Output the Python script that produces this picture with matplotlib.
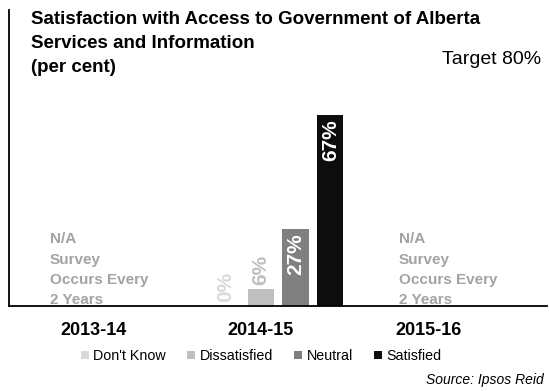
import matplotlib
matplotlib.use("Agg")
import matplotlib.pyplot as plt
import numpy as np

years = ["2013-14", "2014-15", "2015-16"]
responses = ["Don't Know", "Dissatisfied", "Neutral", "Satisfied"]
# only 2014-15 has survey results
values_1415 = [0, 6, 27, 67]
colors = ["#d9d9d9", "#bfbfbf", "#808080", "#0d0d0d"]
na_text = "N/A\nSurvey\nOccurs Every\n2 Years"
title_lines = ["Satisfaction with Access to Government of Alberta",
               "Services and Information", "(per cent)"]

plt.rcParams['font.family'] = ['Liberation Sans', 'DejaVu Sans']

fig = plt.figure(figsize=(5.49, 3.91), dpi=100)
ax = fig.add_axes([0.0164, 0.2174, 0.98, 0.7566])

width = 0.145
pitch = 0.195
x = np.arange(len(years))
for i, (resp, val, col) in enumerate(zip(responses, values_1415, colors)):
    xpos = x[1] + (i - 1.5) * pitch
    ax.bar(xpos, val, width, color=col, label=resp)
    label = f"{val}%"
    if val > 15:
        ax.text(xpos, val - 1.5, label, rotation=90, ha="center", va="top",
                color="white", fontsize=15, fontweight="bold")
    else:
        ax.text(xpos, val + 1.5, label, rotation=90, ha="center", va="bottom",
                color=col, fontsize=15, fontweight="bold")

# years without a survey; last line sits on the baseline
for xi in (x[0] - 0.271, x[2] - 0.325):
    ax.text(xi, -0.5, na_text, ha="left", va="bottom", color="#a3a3a3",
            fontsize=11, fontweight="bold", linespacing=1.58, clip_on=True)

ax.set_xlim(-0.5, 2.5)
ax.set_ylim(0, 104)
ax.set_yticks([])
ax.set_xticks([])
label_pos = x * 0.935 - 0.03
for xi, yr in zip(label_pos, years):
    ax.text(xi, -5.8, yr, ha="center", va="top", fontsize=13,
            fontweight="bold")
for s in ("top", "right"):
    ax.spines[s].set_visible(False)
for s in ("left", "bottom"):
    ax.spines[s].set_linewidth(1.3)
    ax.spines[s].set_zorder(3)

for k, line in enumerate(title_lines):
    fig.text(0.057, 1 - (20 + 24 * k) / 391, line, ha="left", va="center",
             fontsize=13.5, fontweight="bold")
fig.text(0.985, 1 - 59 / 391, "Target 80%", ha="right", va="center",
         fontsize=14)

fig.legend(loc="center", bbox_to_anchor=(0.476, 0.089), ncol=4, frameon=False,
           fontsize=10.3, handlelength=0.55, handleheight=0.55,
           handletextpad=0.3, columnspacing=1.5)
fig.text(0.99, 1 - 380 / 391, "Source: Ipsos Reid", ha="right", va="center",
         fontsize=10, style="italic")

fig.savefig("out.png", dpi=100)
